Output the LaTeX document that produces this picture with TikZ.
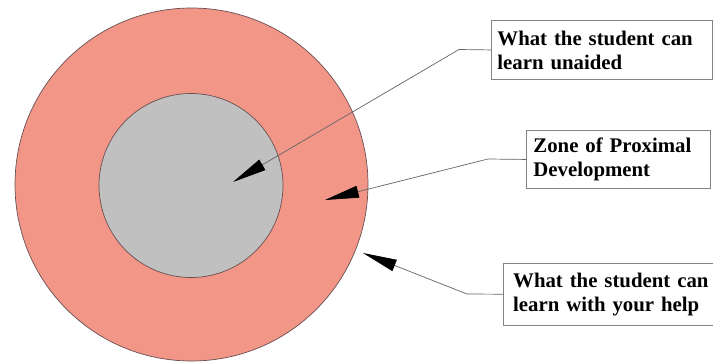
\documentclass[tikz,border=0pt]{standalone}
\usepackage{fontspec}
\setmainfont{Liberation Serif}
\usetikzlibrary{arrows.meta}
\definecolor{zpd}{RGB}{242,150,136}
\definecolor{core}{RGB}{192,192,192}
\definecolor{rim}{RGB}{105,80,80}
\definecolor{leader}{RGB}{100,100,100}
\definecolor{boxline}{RGB}{130,130,130}
\tikzset{
  labeltext/.style={rectangle, anchor=north west,
    align=left, inner ysep=0pt, font=\bfseries\fontsize{20.8}{24}\selectfont},
  labelbox/.style={labeltext, draw=boxline, line width=0.9pt},
  boxedge/.style={draw=boxline, line width=0.9pt},
  pointer/.style={draw=leader, line width=0.7pt,
    -{Triangle[length=34pt,width=12pt,color=black,fill=black]}}
}
\begin{document}
\begin{tikzpicture}[x=1pt,y=-1pt]
\useasboundingbox (0,0) rectangle (713,362);
\clip (0,0) rectangle (713,362);
\fill[white] (0,0) rectangle (713,362);
% circles
\node[circle, draw=rim, line width=0.7pt, fill=zpd, minimum size=353pt, inner sep=0pt] (outer) at (191.5,184.5) {};
\node[circle, draw=rim, line width=0.7pt, fill=core, minimum size=184pt, inner sep=0pt] (inner) at (191,185.5) {};
% label boxes
\node[labelbox, inner xsep=6pt, text width=209pt, minimum height=59pt] (b1) at (491,20) {What the student can\\learn unaided};
\node[labelbox, inner xsep=7pt, text width=170pt, minimum height=58pt] (b2) at (526,130) {Zone of Proximal\\Development};
\node[labeltext, inner xsep=10pt, text width=220pt, minimum height=62pt] (b3) at (503,263) {What the student can\\learn with your help};
\draw[boxedge] (b3.north east) -- (b3.north west) -- (b3.south west) -- (b3.south east);
% arrow tips and bends
\coordinate (t1) at (233,182);
\coordinate (t2) at (325,200);
\coordinate (t3) at (363,253);
\coordinate (k1) at (459,49.5);
\coordinate (k2) at (488,159);
\coordinate (k3) at (467,294);
\draw[pointer] (b1.west) -- (k1) -- (t1);
\draw[pointer] (b2.west) -- (k2) -- (t2);
\draw[pointer] (b3.west) -- (k3) -- (t3);
\end{tikzpicture}
\end{document}
